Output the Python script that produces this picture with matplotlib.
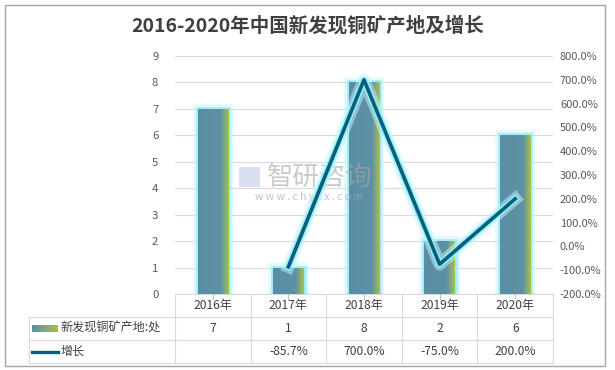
import matplotlib
matplotlib.use("Agg")
import matplotlib.pyplot as plt
import matplotlib.patheffects as pe
import numpy as np
from matplotlib.colors import LinearSegmentedColormap
from matplotlib.transforms import blended_transform_factory

plt.rcParams['font.family'] = ['Noto Sans CJK SC', 'DejaVu Sans']

title = "2016-2020年中国新发现铜矿产地及增长"
years = ["2016年", "2017年", "2018年", "2019年", "2020年"]
counts = [7, 1, 8, 2, 6]
growth = [None, -85.7, 700.0, -75.0, 200.0]
growth_labels = ["", "-85.7%", "700.0%", "-75.0%", "200.0%"]
series_bar = "新发现铜矿产地:处"
series_line = "增长"

W, H = 615, 370
fig = plt.figure(figsize=(W / 100, H / 100), dpi=100)

def fx(px):
    return px / W

def fy(py):
    return 1 - py / H

# figure border
fig.patches.append(plt.Rectangle((fx(5), fy(366)), fx(600), 361 / H, transform=fig.transFigure,
                                 fill=False, edgecolor='#a6a6a6', linewidth=1.0))

left_px, right_px, top_px, bot_px = 175, 553, 56, 294
ax = fig.add_axes([fx(left_px), fy(bot_px), fx(right_px - left_px), (bot_px - top_px) / H])
ax2 = ax.twinx()

x = np.arange(len(years))
ax.set_xlim(-0.5, len(years) - 0.5)
ax.set_ylim(0, 9)
ax.set_yticks(range(0, 10))
ax.yaxis.grid(True, color='#d9d9d9', linewidth=0.8)
ax.set_axisbelow(True)
ax.set_xticks([])
for s in ['top', 'right', 'left']:
    ax.spines[s].set_visible(False)
ax.spines['bottom'].set_color('#d9d9d9')
ax.tick_params(axis='y', length=0, labelsize=8.2, labelcolor='#595959', pad=12)

cmap = LinearSegmentedColormap.from_list('barg', [(0, '#5a8ea8'), (0.75, '#5e91a5'), (1.0, '#a9c04a')])
glow = [pe.Stroke(linewidth=7, foreground='#bff6fb', alpha=0.45),
        pe.Stroke(linewidth=3.5, foreground='#9eeef7', alpha=0.9),
        pe.Normal()]
bars = ax.bar(x, counts, width=0.4, color='#5e91a5', linewidth=0, zorder=2)
grad = np.linspace(0, 1, 64).reshape(1, -1)
for b in bars:
    b.set_path_effects(glow)
    bx, by, bw, bh = b.get_x(), b.get_y(), b.get_width(), b.get_height()
    im = ax.imshow(grad, cmap=cmap, extent=[bx, bx + bw, by, by + bh], aspect='auto', zorder=3,
                   interpolation='bilinear')
    im.set_clip_path(b)
ax.set_xlim(-0.5, len(years) - 0.5)
ax.set_ylim(0, 9)

# watermark
ax.text(1.42, 4.4, "智研咨询", ha='center', va='center', fontsize=19, color='#a8a8a8', alpha=0.6, zorder=6)
ax.text(1.27, 3.67, "w w w . c h y x x . c o m", ha='center', va='center', fontsize=7.5,
        color='#a8a8a8', alpha=0.7, zorder=6)
ax.add_patch(plt.Rectangle((0.35, 4.05), 0.28, 0.75, color='#b9c6e0', alpha=0.55, zorder=6, linewidth=0))

# line
gx = [xi for xi, g in zip(x, growth) if g is not None]
gy = [g for g in growth if g is not None]
ax2.plot(gx, gy, color='#03607f', linewidth=2.6, zorder=5,
         path_effects=[pe.Stroke(linewidth=9, foreground='#c3f7fb', alpha=0.5),
                       pe.Stroke(linewidth=5, foreground='#9cedf6', alpha=0.9), pe.Normal()])
ax2.set_ylim(-200, 800)
ax2.set_yticks(range(-200, 801, 100))
ax2.set_yticklabels([f"{v:.1f}%" for v in range(-200, 801, 100)])
ax2.tick_params(axis='y', length=0, labelsize=8, labelcolor='#595959', pad=5)
for s in ['top', 'right', 'left', 'bottom']:
    ax2.spines[s].set_visible(False)

# table
tr = blended_transform_factory(ax.transData, fig.transFigure)
lc = '#d9d9d9'
rows_px = [294, 317, 340, 363]
tbl_left_px = 29
for r in rows_px[1:]:
    fig.add_artist(plt.Line2D([fx(tbl_left_px), fx(right_px)], [fy(r), fy(r)], transform=fig.transFigure,
                              color=lc, linewidth=0.8))
for i in range(len(years) + 1):
    fig.add_artist(plt.Line2D([i - 0.5, i - 0.5], [fy(rows_px[0]), fy(rows_px[-1])], transform=tr,
                              color=lc, linewidth=0.8))
fig.add_artist(plt.Line2D([fx(tbl_left_px), fx(tbl_left_px)], [fy(rows_px[1]), fy(rows_px[-1])],
                          transform=fig.transFigure, color=lc, linewidth=0.8))
for i in range(len(years)):
    fig.add_artist(plt.Line2D([i, i], [fy(294), fy(299)], transform=tr, color='#bfbfbf', linewidth=0.8))

tfs = 8.7
tcol = '#404040'
for i, yv in enumerate(years):
    fig.text(0, fy(305.5), yv, transform=tr, ha='center', va='center', fontsize=tfs, color=tcol).set_x(i)
for i, c in enumerate(counts):
    fig.text(0, fy(328.5), str(c), transform=tr, ha='center', va='center', fontsize=tfs, color=tcol).set_x(i)
for i, g in enumerate(growth_labels):
    fig.text(0, fy(351.5), g, transform=tr, ha='center', va='center', fontsize=tfs, color=tcol).set_x(i)

# legend keys
lax = fig.add_axes([fx(32), fy(332), fx(26), 7 / H])
lax.imshow(np.linspace(0, 1, 64).reshape(1, -1), cmap=LinearSegmentedColormap.from_list(
    'leg', ['#5a8ea8', '#a9c04a']), aspect='auto', extent=[0, 1, 0, 1])
lax.axis('off')
fig.add_artist(plt.Line2D([fx(32), fx(58)], [fy(351.5), fy(351.5)], transform=fig.transFigure,
                          color='#03607f', linewidth=2.4))
fig.text(fx(61), fy(328.5), series_bar, ha='left', va='center', fontsize=tfs, color=tcol)
fig.text(fx(61), fy(351.5), series_line, ha='left', va='center', fontsize=tfs, color=tcol)

fig.text(0.5, fy(26), title, ha='center', va='center', fontsize=14, fontweight='bold', color='#404040')

fig.savefig("out.png", dpi=100, facecolor='white')
